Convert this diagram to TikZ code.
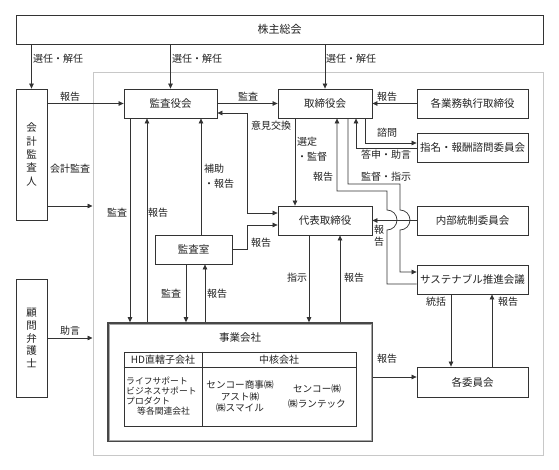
\documentclass[tikz,border=0pt]{standalone}
\usepackage{fontspec}
\setmainfont{Noto Sans CJK JP}
\usetikzlibrary{arrows.meta}
\definecolor{ln}{HTML}{333333}
\definecolor{tx}{HTML}{222222}
\definecolor{frm}{HTML}{C8C8C8}
\tikzset{
  box/.style={draw=ln, line width=0.8pt, fill=white, inner sep=0pt, text=tx,
    font=\fontsize{10.5}{12}\selectfont},
  vbox/.style={box, align=center},
  lbl/.style={font=\fontsize{10}{12}\selectfont, inner sep=0pt, text=tx},
  tb/.style={inner sep=0pt, text=tx},
  con/.style={draw=ln, line width=0.7pt},
  arr/.style={con, -{Triangle[length=5pt,width=4.5pt]}},
  darr/.style={con, {Triangle[length=5pt,width=4.5pt]}-{Triangle[length=5pt,width=4.5pt]}},
}
\begin{document}
\begin{tikzpicture}[x=1pt,y=-1pt]
\useasboundingbox (0,0) rectangle (559,470);
\fill[white] (0,0) rectangle (559,470);

% helper coordinates
\foreach \v in {113,143,148,184,191,206,210,213,225,230,272,284,377}{\coordinate (Y\v) at (0,\v);}
\foreach \v in {130,147,186,201,205,247,295,309,337,340,348,356,365,387,400,451,492}{\coordinate (X\v) at (\v,0);}

% frame
\node[draw=frm, line width=1pt, minimum width=450pt, minimum height=382pt, inner sep=0pt] (frame) at (318,264) {};

% boxes
\node[box, minimum width=527pt, minimum height=29pt, font=\fontsize{11}{12}\selectfont] (kabu) at (279.5,29.5) {株主総会};
\node[vbox, minimum width=31pt, minimum height=131pt, font=\fontsize{10.5}{13.4}\selectfont] (kaikei) at (31.5,154.5) {会\\計\\監\\査\\人};
\node[vbox, minimum width=31pt, minimum height=118pt, font=\fontsize{10.5}{12.6}\selectfont] (komon) at (31.5,338) {顧\\問\\弁\\護\\士};
\node[box, minimum width=93pt, minimum height=29pt] (kansayaku) at (170.5,103.5) {監査役会};
\node[box, minimum width=94pt, minimum height=29pt] (torishimari) at (325,103.5) {取締役会};
\node[box, minimum width=111pt, minimum height=29pt] (gyomu) at (472.5,103.5) {各業務執行取締役};
\node[box, minimum width=111pt, minimum height=29pt] (shimei) at (472.5,147.5) {指名・報酬諮問委員会};
\node[box, minimum width=94pt, minimum height=29pt] (daihyo) at (325,220.5) {代表取締役};
\node[box, minimum width=111pt, minimum height=29pt] (naibu) at (472.5,220.5) {内部統制委員会};
\node[box, minimum width=111pt, minimum height=29pt] (sustain) at (472.5,279.5) {サステナブル推進会議};
\node[box, minimum width=77pt, minimum height=29pt] (kansashitsu) at (193.5,249.5) {監査室};
\node[box, minimum width=111pt, minimum height=30pt] (iinkai) at (472.5,382) {各委員会};

% business companies
\node[draw=ln!90, line width=1.6pt, fill=white, minimum width=264pt, minimum height=118pt, inner sep=0pt] (jigyo) at (240,382) {};
\draw[gray!70, line width=0.8pt] ([shift={(1.8,1.8)}]jigyo.north west) rectangle ([shift={(-1.8,-1.8)}]jigyo.south east);
\node[tb, font=\fontsize{10.5}{12}\selectfont] (jtitle) at (240,338) {事業会社};
\node[draw=ln, line width=0.8pt, minimum width=232pt, minimum height=74pt, inner sep=0pt] (tbl) at (240,389) {};
\coordinate (hdrL) at (124,367);
\coordinate (divX) at (202,0);
\draw[ln, line width=0.8pt] (tbl.west |- hdrL) -- (tbl.east |- hdrL);
\draw[ln, line width=0.8pt] (tbl.north -| divX) -- (tbl.south -| divX);
\node[tb, font=\fontsize{10}{12}\selectfont] (hd) at (163,360) {HD直轄子会社};
\node[tb, font=\fontsize{10}{12}\selectfont] (chukaku) at (279,360) {中核会社};
\node[tb, anchor=west, align=left, font=\fontsize{8.8}{10}\selectfont] (col1) at (126,391) {ライフサポート\\ビジネスサポート\\プロダクト};
\node[tb, anchor=west, font=\fontsize{8.8}{10}\selectfont] (col1b) at (137,411) {等各関連会社};
\node[tb, align=center, font=\fontsize{9.6}{11.5}\selectfont] (col2) at (240,396.5) {センコー商事㈱\\アスト㈱\\㈱スマイル};
\node[tb, align=center, font=\fontsize{9.6}{15}\selectfont] (col3) at (317,396.5) {センコー㈱\\㈱ランテック};

% connectors
\draw[arr] (kabu.south -| kaikei) -- (kaikei.north);
\draw[arr] (kabu.south -| kansayaku) -- (kansayaku.north);
\draw[arr] (kabu.south -| torishimari) -- (torishimari.north);
\draw[arr] (kaikei.east |- kansayaku) -- (kansayaku.west);
\draw[arr] (kaikei.east |- Y206) -- (frame.west |- Y206);
\draw[arr] (komon.east) -- (frame.west |- komon.east);
\draw[arr] (kansayaku.east) -- (torishimari.west);
\draw[arr] (gyomu.west) -- (torishimari.east);
\draw[darr] (kansayaku.east |- Y113) -- (X247 |- Y113) -- (X247 |- Y213) -- (daihyo.west |- Y213);
\draw[arr] (kansashitsu.east) -- (X247 |- kansashitsu.east) -- (X247 |- Y225) -- (daihyo.west |- Y225);
\draw[arr] (kansashitsu.north -| X201) -- (kansayaku.south -| X201);
\draw[arr] (kansayaku.south -| X130) -- (jigyo.north -| X130);
\draw[arr] (jigyo.north -| X147) -- (kansayaku.south -| X147);
\draw[arr] (kansashitsu.south -| X186) -- (jigyo.north -| X186);
\draw[arr] (jigyo.north -| X205) -- (kansashitsu.south -| X205);
\draw[arr] (torishimari.south -| X295) -- (daihyo.north -| X295);
\draw[arr] (sustain.west |- Y284) -- (X387 |- Y284) -- (X387 |- Y230) arc[start angle=90, end angle=-90, radius=10] -- (X387 |- Y191) -- (X337 |- Y191) -- (torishimari.south -| X337);
\draw[arr] (torishimari.south -| X348) -- (X348 |- Y184) -- (X400 |- Y184) -- (X400 |- Y210) arc[start angle=-90, end angle=90, radius=10] -- (X400 |- Y272) -- (sustain.west |- Y272);
\draw[arr] (naibu.west) -- (daihyo.east);
\draw[arr] (torishimari.south -| X365) -- (X365 |- Y143) -- (shimei.west |- Y143);
\draw[arr] (shimei.west |- Y148) -- (X356 |- Y148) -- (torishimari.south -| X356);
\draw[arr] (daihyo.south -| X309) -- (jigyo.north -| X309);
\draw[arr] (jigyo.north -| X340) -- (daihyo.south -| X340);
\draw[arr] (sustain.south -| X451) -- (iinkai.north -| X451);
\draw[arr] (iinkai.north -| X492) -- (sustain.south -| X492);
\draw[arr] (jigyo.east |- Y377) -- (iinkai.west |- Y377);

% labels
\node[lbl] (l1) at (58,59) {選任・解任};
\node[lbl] (l2) at (197,59) {選任・解任};
\node[lbl] (l3) at (351,59) {選任・解任};
\node[lbl] (l4) at (70,97) {報告};
\node[lbl] (l5) at (248,97) {監査};
\node[lbl] (l6) at (387,97) {報告};
\node[lbl] (l7) at (70,169) {会計監査};
\node[lbl] (l8) at (70,331) {助言};
\node[lbl] (l9) at (271,126) {意見交換};
\node[lbl, anchor=west, align=left, font=\fontsize{10}{15}\selectfont] (l10) at (297,149.5) {選定\\・監督};
\node[lbl] (l11) at (387,133) {諮問};
\node[lbl] (l12) at (386,155) {答申・助言};
\node[lbl] (l13) at (323,177) {報告};
\node[lbl] (l14) at (386,177) {監督・指示};
\node[lbl, anchor=west, align=left, font=\fontsize{10}{15}\selectfont] (l15) at (204,176.5) {補助\\・報告};
\node[lbl] (l16) at (117,213) {監査};
\node[lbl] (l17) at (158,213) {報告};
\node[lbl, align=center, font=\fontsize{10}{12}\selectfont] (l18) at (379,236) {報\\告};
\node[lbl] (l19) at (261,243) {報告};
\node[lbl] (l20) at (297,278) {指示};
\node[lbl] (l21) at (354,278) {報告};
\node[lbl] (l22) at (171,294) {監査};
\node[lbl] (l23) at (217,294) {報告};
\node[lbl] (l24) at (436,302) {統括};
\node[lbl] (l25) at (508,302) {報告};
\node[lbl] (l26) at (387,359) {報告};
\end{tikzpicture}
\end{document}
